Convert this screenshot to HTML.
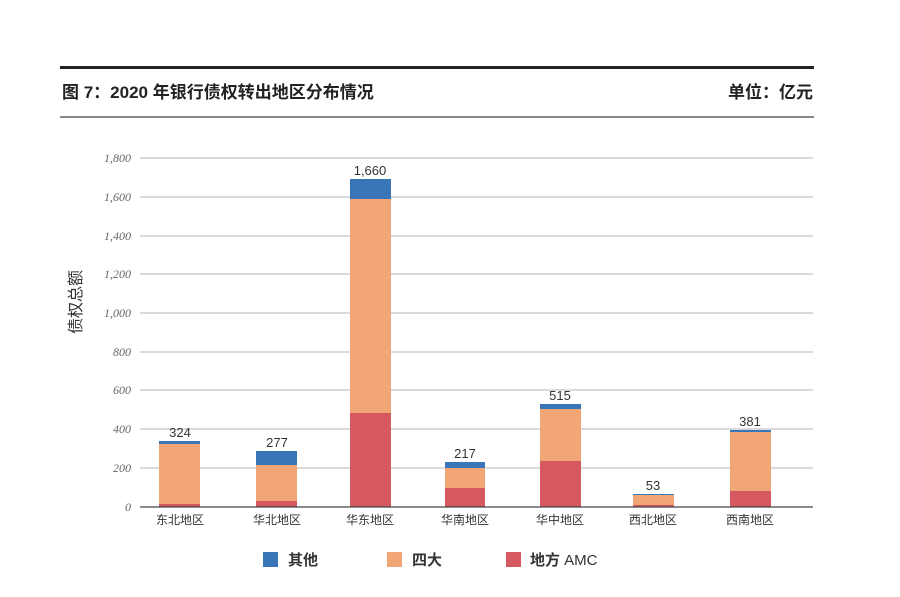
<!DOCTYPE html>
<html><head><meta charset="utf-8"><style>
body{margin:0;background:#fff;}
svg text{font-family:"Liberation Sans","Noto Sans CJK SC",sans-serif;}
svg text.ser{font-family:"Liberation Serif",serif;font-style:italic;}
</style></head><body>
<svg width="900" height="592" viewBox="0 0 900 592" xmlns="http://www.w3.org/2000/svg">
<rect width="900" height="592" fill="#fff"/>
<rect x="60" y="66" width="754" height="3" fill="#222"/>
<text x="62" y="98" font-size="17" font-weight="bold" fill="#222">图 7：2020 年银行债权转出地区分布情况</text>
<text x="813" y="98" font-size="17" font-weight="bold" fill="#222" text-anchor="end">单位：亿元</text>
<rect x="60" y="116" width="754" height="2" fill="#888"/>
<g stroke="#b5b5b5" stroke-width="1">
<line x1="140" x2="813" y1="158" y2="158"/><line x1="140" x2="813" y1="197" y2="197"/>
<line x1="140" x2="813" y1="236" y2="236"/><line x1="140" x2="813" y1="274" y2="274"/>
<line x1="140" x2="813" y1="313" y2="313"/><line x1="140" x2="813" y1="352" y2="352"/>
<line x1="140" x2="813" y1="390" y2="390"/><line x1="140" x2="813" y1="429" y2="429"/>
<line x1="140" x2="813" y1="468" y2="468"/>
</g>
<g font-size="12" fill="#666" text-anchor="end">
<text class="ser" x="131" y="162">1,800</text><text class="ser" x="131" y="201">1,600</text><text class="ser" x="131" y="240">1,400</text>
<text class="ser" x="131" y="278">1,200</text><text class="ser" x="131" y="317">1,000</text><text class="ser" x="131" y="356">800</text>
<text class="ser" x="131" y="394">600</text><text class="ser" x="131" y="433">400</text><text class="ser" x="131" y="472">200</text>
<text class="ser" x="131" y="511">0</text>
</g>
<text transform="translate(81,302) rotate(-90)" font-size="16" fill="#333" text-anchor="middle">债权总额</text>
<g>
<rect x="159" y="441" width="41" height="3" fill="#3a75b8"/><rect x="159" y="444" width="41" height="60" fill="#f2a675"/><rect x="159" y="504" width="41" height="3" fill="#d5595e"/>
<rect x="256" y="451" width="41" height="14" fill="#3a75b8"/><rect x="256" y="465" width="41" height="36" fill="#f2a675"/><rect x="256" y="501" width="41" height="6" fill="#d5595e"/>
<rect x="350" y="179" width="41" height="20" fill="#3a75b8"/><rect x="350" y="199" width="41" height="214" fill="#f2a675"/><rect x="350" y="413" width="41" height="94" fill="#d5595e"/>
<rect x="445" y="462" width="40" height="6" fill="#3a75b8"/><rect x="445" y="468" width="40" height="20" fill="#f2a675"/><rect x="445" y="488" width="40" height="19" fill="#d5595e"/>
<rect x="540" y="404" width="41" height="5" fill="#3a75b8"/><rect x="540" y="409" width="41" height="52" fill="#f2a675"/><rect x="540" y="461" width="41" height="46" fill="#d5595e"/>
<rect x="633" y="494" width="41" height="1" fill="#3a75b8"/><rect x="633" y="495" width="41" height="10" fill="#f2a675"/><rect x="633" y="505" width="41" height="2" fill="#d5595e"/>
<rect x="730" y="430" width="41" height="2" fill="#3a75b8"/><rect x="730" y="432" width="41" height="59" fill="#f2a675"/><rect x="730" y="491" width="41" height="16" fill="#d5595e"/>
</g>
<line x1="140" x2="813" y1="507" y2="507" stroke="#444" stroke-width="1.2"/>
<g font-size="13" fill="#333" text-anchor="middle">
<text x="180" y="437">324</text><text x="277" y="447">277</text><text x="370" y="175">1,660</text>
<text x="465" y="458">217</text><text x="560" y="400">515</text><text x="653" y="490">53</text><text x="750" y="426">381</text>
</g>
<g font-size="12" fill="#333" text-anchor="middle">
<text x="180" y="524">东北地区</text><text x="277" y="524">华北地区</text><text x="370" y="524">华东地区</text>
<text x="465" y="524">华南地区</text><text x="560" y="524">华中地区</text><text x="653" y="524">西北地区</text><text x="750" y="524">西南地区</text>
</g>
<rect x="263" y="552" width="15" height="15" fill="#3a75b8"/>
<text x="288" y="565" font-size="15" font-weight="bold" fill="#333">其他</text>
<rect x="387" y="552" width="15" height="15" fill="#f2a675"/>
<text x="412" y="565" font-size="15" font-weight="bold" fill="#333">四大</text>
<rect x="506" y="552" width="15" height="15" fill="#d5595e"/>
<text x="530" y="565" font-size="15" font-weight="bold" fill="#333">地方 <tspan font-weight="normal">AMC</tspan></text>
</svg>
</body></html>
